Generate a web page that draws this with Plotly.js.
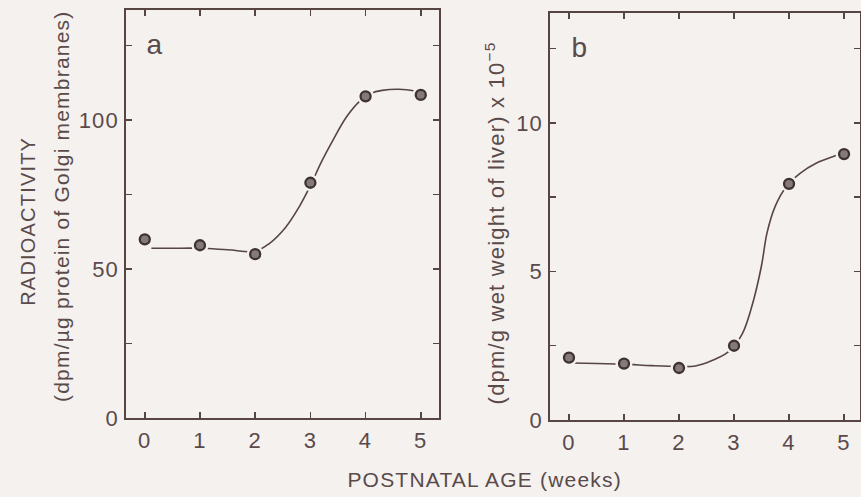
<!DOCTYPE html>
<html>
<head>
<meta charset="utf-8">
<script src="https://cdn.plot.ly/plotly-3.0.1.min.js"></script>
<style>
html,body{margin:0;padding:0;background:#f4f1ef;}
#chart{width:861px;height:497px;}
#chart .annotation-text{letter-spacing:1.2px;}
#chart .xtick text, #chart .ytick text, #chart .x2tick text, #chart .y2tick text{letter-spacing:1.2px;}
</style>
</head>
<body>
<div id="chart"></div>
<script>
// Data
const weeks = [0, 1, 2, 3, 4, 5];
const golgiRadioactivity = [60, 58, 55, 79, 108, 108.5];      // panel a, dpm/µg protein
const liverRadioactivity = [2.1, 1.9, 1.75, 2.5, 7.95, 8.95]; // panel b, dpm/g x 10^-5

// Hand-drawn fitted curves
const curveA_x = [0.12, 0.5, 1, 1.5, 2, 2.25, 2.55, 2.8, 3, 3.2, 3.4, 3.65, 3.9, 4.1, 4.3, 4.6, 4.9, 5];
const curveA_y = [57, 57, 57, 56.5, 56, 58.5, 64, 71, 78, 86, 93, 101, 106.5, 109, 110, 110.4, 109.8, 109.3];
const curveB_x = [0.07, 0.5, 1, 1.5, 2, 2.3, 2.6, 2.9, 3.15, 3.35, 3.5, 3.6, 3.75, 3.95, 4.2, 4.5, 4.85, 5];
const curveB_y = [1.92, 1.9, 1.88, 1.83, 1.8, 1.82, 2.0, 2.3, 2.9, 4.0, 5.2, 6.3, 7.2, 7.85, 8.3, 8.65, 8.9, 9.0];

const xTicks = [0, 1, 2, 3, 4, 5];
const yTicksA = [0, 50, 100];
const yMinorA = 25;
const yTicksB = [0, 5, 10];
const yMinorB = 2.5;

const bg = '#f4f1ef';
const ink = '#574543';
const txt = '#5a4a4a';
const fontFam = 'Liberation Sans, Arial, Helvetica, sans-serif';

function curve(x, y, xa, ya) {
  return {x: x, y: y, xaxis: xa, yaxis: ya, mode: 'lines', type: 'scatter',
    line: {color: ink, width: 1.6, shape: 'spline', smoothing: 1}, hoverinfo: 'skip', showlegend: false};
}
function halo(x, y, xa, ya) {
  return {x: x, y: y, xaxis: xa, yaxis: ya, mode: 'markers', type: 'scatter',
    marker: {size: 17, color: bg}, hoverinfo: 'skip', showlegend: false};
}
function dots(x, y, xa, ya) {
  return {x: x, y: y, xaxis: xa, yaxis: ya, mode: 'markers', type: 'scatter',
    marker: {size: 10, color: '#857a7a', line: {color: '#3e3232', width: 2.3}}, showlegend: false};
}

const data = [
  curve(curveA_x, curveA_y, 'x', 'y'),
  halo(weeks, golgiRadioactivity, 'x', 'y'),
  dots(weeks, golgiRadioactivity, 'x', 'y'),
  curve(curveB_x, curveB_y, 'x2', 'y2'),
  halo(weeks, liverRadioactivity, 'x2', 'y2'),
  dots(weeks, liverRadioactivity, 'x2', 'y2')
];

const axisCommon = {
  showline: true, linecolor: ink, linewidth: 1.6, mirror: 'ticks',
  ticks: 'inside', ticklen: 6, tickwidth: 1.5, tickcolor: ink,
  showgrid: false, zeroline: false, tickfont: {family: fontFam, size: 22, color: txt}
};
function minor(d) {
  return {dtick: d, tick0: 0, ticks: 'inside', ticklen: 6, tickwidth: 1.5, tickcolor: ink, showgrid: false};
}

const layout = {
  width: 861, height: 497,
  margin: {l: 0, r: 0, t: 0, b: 0},
  paper_bgcolor: bg, plot_bgcolor: bg,
  font: {family: fontFam, color: txt},
  xaxis: Object.assign({}, axisCommon, {domain: [126/861, 439/861], range: [-0.34, 5.33],
    tickvals: xTicks, anchor: 'y', ticklabelstandoff: 2}),
  yaxis: Object.assign({}, axisCommon, {domain: [1 - 418/497, 1 - 10/497], range: [0, 137],
    tickvals: yTicksA, minor: minor(yMinorA), anchor: 'x', ticklabelstandoff: 1}),
  xaxis2: Object.assign({}, axisCommon, {domain: [550/861, 860/861], range: [-0.345, 5.29],
    tickvals: xTicks, anchor: 'y2', ticklabelstandoff: 2}),
  yaxis2: Object.assign({}, axisCommon, {domain: [1 - 420/497, 1 - 13/497], range: [0, 13.7],
    tickvals: yTicksB, minor: minor(yMinorB), anchor: 'x2', ticklabelstandoff: 1}),
  annotations: [
    {text: 'a', xref: 'paper', yref: 'paper', x: 155/861, y: 1 - 44/497, showarrow: false,
     font: {size: 28, family: fontFam, color: txt}, xanchor: 'center', yanchor: 'middle'},
    {text: 'b', xref: 'paper', yref: 'paper', x: 580/861, y: 1 - 48/497, showarrow: false,
     font: {size: 28, family: fontFam, color: txt}, xanchor: 'center', yanchor: 'middle'},
    {text: 'RADIOACTIVITY', xref: 'paper', yref: 'paper', x: 28/861, y: 1 - 222/497, showarrow: false,
     textangle: -90, font: {size: 20, family: fontFam, color: txt}, xanchor: 'center', yanchor: 'middle'},
    {text: '(dpm/µg protein of Golgi membranes)', xref: 'paper', yref: 'paper', x: 62/861, y: 1 - 207/497, showarrow: false,
     textangle: -90, font: {size: 21, family: fontFam, color: txt}, xanchor: 'center', yanchor: 'middle'},
    {text: '(dpm/g wet weight of liver) x 10<sup>−5</sup>', xref: 'paper', yref: 'paper', x: 495/861, y: 1 - 223/497, showarrow: false,
     textangle: -90, font: {size: 22, family: fontFam, color: txt}, xanchor: 'center', yanchor: 'middle'},
    {text: 'POSTNATAL AGE (weeks)', xref: 'paper', yref: 'paper', x: 484/861, y: 1 - 479/497, showarrow: false,
     font: {size: 21, family: fontFam, color: txt}, xanchor: 'center', yanchor: 'middle'}
  ]
};

Plotly.newPlot('chart', data, layout, {staticPlot: true, displayModeBar: false});
</script>
</body>
</html>
